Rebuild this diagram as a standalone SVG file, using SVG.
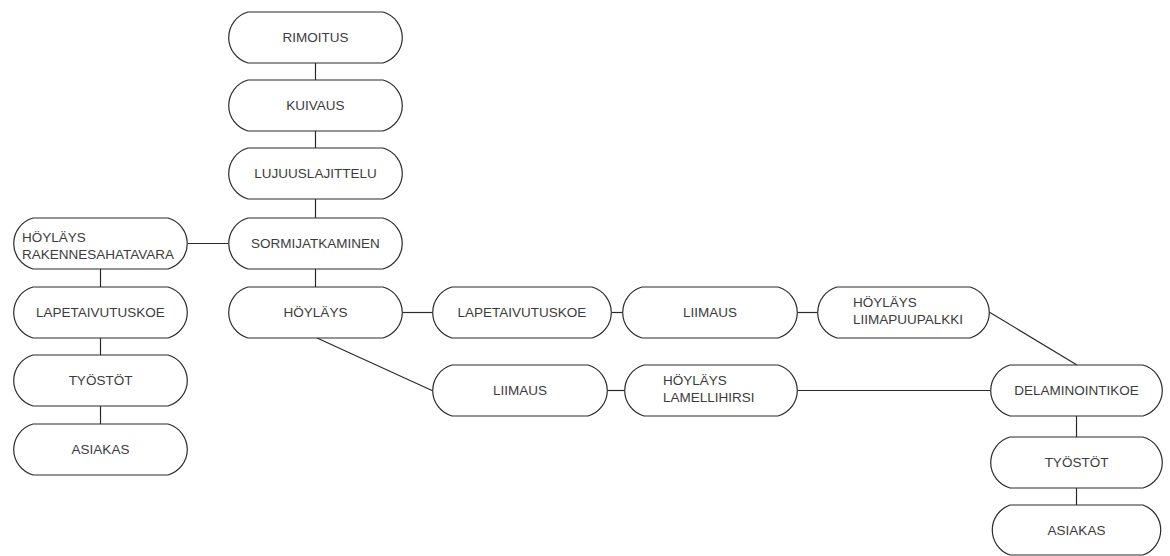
<svg xmlns="http://www.w3.org/2000/svg" width="1170" height="556" viewBox="0 0 1170 556">
<style>
.b{fill:#fff;stroke:#2a2a2a;stroke-width:1.2}
.t{font-family:"Liberation Sans",Arial,sans-serif;font-size:13.5px;fill:#3c3c3c;text-anchor:middle}
.tl{font-family:"Liberation Sans",Arial,sans-serif;font-size:13.5px;fill:#3c3c3c}
.c{stroke:#2a2a2a;stroke-width:1.2;fill:none}
</style>
<rect width="1170" height="556" fill="#fff"/>
<g id="connectors">
<line class="c" x1="315.5" y1="63" x2="315.5" y2="80"/>
<line class="c" x1="315.5" y1="131" x2="315.5" y2="148"/>
<line class="c" x1="315.5" y1="199" x2="315.5" y2="218"/>
<line class="c" x1="315.5" y1="269" x2="315.5" y2="287"/>
<line class="c" x1="188" y1="243.5" x2="228" y2="243.5"/>
<line class="c" x1="100.5" y1="269" x2="100.5" y2="287"/>
<line class="c" x1="100.5" y1="338" x2="100.5" y2="355"/>
<line class="c" x1="100.5" y1="406" x2="100.5" y2="424"/>
<line class="c" x1="403" y1="312.5" x2="432" y2="312.5"/>
<line class="c" x1="612" y1="312.5" x2="622" y2="312.5"/>
<line class="c" x1="798" y1="312.5" x2="817" y2="312.5"/>
<line class="c" x1="317" y1="338" x2="432" y2="390.5"/>
<line class="c" x1="608" y1="390.5" x2="624" y2="390.5"/>
<line class="c" x1="798" y1="390.5" x2="990" y2="390.5"/>
<line class="c" x1="990" y1="312.5" x2="1077" y2="365"/>
<line class="c" x1="1076.5" y1="416" x2="1076.5" y2="437"/>
<line class="c" x1="1076.5" y1="488" x2="1076.5" y2="505"/>
</g>
<g id="rimoitus"><path class="b" d="M248,12 H383 A26.5,26.5 0 0 1 383,63 H248 A26.5,26.5 0 0 1 248,12 Z"/><text class="t" x="315.5" y="42">RIMOITUS</text></g>
<g id="kuivaus"><path class="b" d="M248,80 H383 A26.5,26.5 0 0 1 383,131 H248 A26.5,26.5 0 0 1 248,80 Z"/><text class="t" x="315.5" y="110">KUIVAUS</text></g>
<g id="lujuus"><path class="b" d="M248,148 H383 A26.5,26.5 0 0 1 383,199 H248 A26.5,26.5 0 0 1 248,148 Z"/><text class="t" x="315.5" y="178">LUJUUSLAJITTELU</text></g>
<g id="sormi"><path class="b" d="M248,218 H383 A26.5,26.5 0 0 1 383,269 H248 A26.5,26.5 0 0 1 248,218 Z"/><text class="t" x="315.5" y="248">SORMIJATKAMINEN</text></g>
<g id="hoylays"><path class="b" d="M248,287 H383 A26.5,26.5 0 0 1 383,338 H248 A26.5,26.5 0 0 1 248,287 Z"/><text class="t" x="315.5" y="317">HÖYLÄYS</text></g>
<g id="hoylays-rak"><path class="b" d="M33,218 H168 A26.5,26.5 0 0 1 168,269 H33 A26.5,26.5 0 0 1 33,218 Z"/><text class="tl" x="22" y="242">HÖYLÄYS</text><text class="tl" x="22" y="259">RAKENNESAHATAVARA</text></g>
<g id="lape-left"><path class="b" d="M33,287 H168 A26.5,26.5 0 0 1 168,338 H33 A26.5,26.5 0 0 1 33,287 Z"/><text class="t" x="100.5" y="317">LAPETAIVUTUSKOE</text></g>
<g id="tyostot-left"><path class="b" d="M33,355 H168 A26.5,26.5 0 0 1 168,406 H33 A26.5,26.5 0 0 1 33,355 Z"/><text class="t" x="100.5" y="385">TYÖSTÖT</text></g>
<g id="asiakas-left"><path class="b" d="M33,424 H168 A26.5,26.5 0 0 1 168,475 H33 A26.5,26.5 0 0 1 33,424 Z"/><text class="t" x="100.5" y="454">ASIAKAS</text></g>
<g id="lape-row"><path class="b" d="M452,287 H592 A26.5,26.5 0 0 1 592,338 H452 A26.5,26.5 0 0 1 452,287 Z"/><text class="t" x="522" y="317">LAPETAIVUTUSKOE</text></g>
<g id="liimaus1"><path class="b" d="M642,287 H778 A26.5,26.5 0 0 1 778,338 H642 A26.5,26.5 0 0 1 642,287 Z"/><text class="t" x="710" y="317">LIIMAUS</text></g>
<g id="hoylays-liima"><path class="b" d="M837,287 H970 A26.5,26.5 0 0 1 970,338 H837 A26.5,26.5 0 0 1 837,287 Z"/><text class="tl" x="853" y="307">HÖYLÄYS</text><text class="tl" x="853" y="324">LIIMAPUUPALKKI</text></g>
<g id="liimaus2"><path class="b" d="M452,365 H588 A26.5,26.5 0 0 1 588,416 H452 A26.5,26.5 0 0 1 452,365 Z"/><text class="t" x="520" y="395">LIIMAUS</text></g>
<g id="hoylays-lam"><path class="b" d="M644,365 H778 A26.5,26.5 0 0 1 778,416 H644 A26.5,26.5 0 0 1 644,365 Z"/><text class="tl" x="663" y="385">HÖYLÄYS</text><text class="tl" x="663" y="402">LAMELLIHIRSI</text></g>
<g id="delam"><path class="b" d="M1010,365 H1143 A26.5,26.5 0 0 1 1143,416 H1010 A26.5,26.5 0 0 1 1010,365 Z"/><text class="t" x="1076.5" y="395">DELAMINOINTIKOE</text></g>
<g id="tyostot-right"><path class="b" d="M1010,437 H1143 A26.5,26.5 0 0 1 1143,488 H1010 A26.5,26.5 0 0 1 1010,437 Z"/><text class="t" x="1076.5" y="467">TYÖSTÖT</text></g>
<g id="asiakas-right"><path class="b" d="M1010,505 H1143 A26.5,26.5 0 0 1 1143,555 H1010 A26.5,26.5 0 0 1 1010,505 Z"/><text class="t" x="1076.5" y="535">ASIAKAS</text></g>
</svg>
